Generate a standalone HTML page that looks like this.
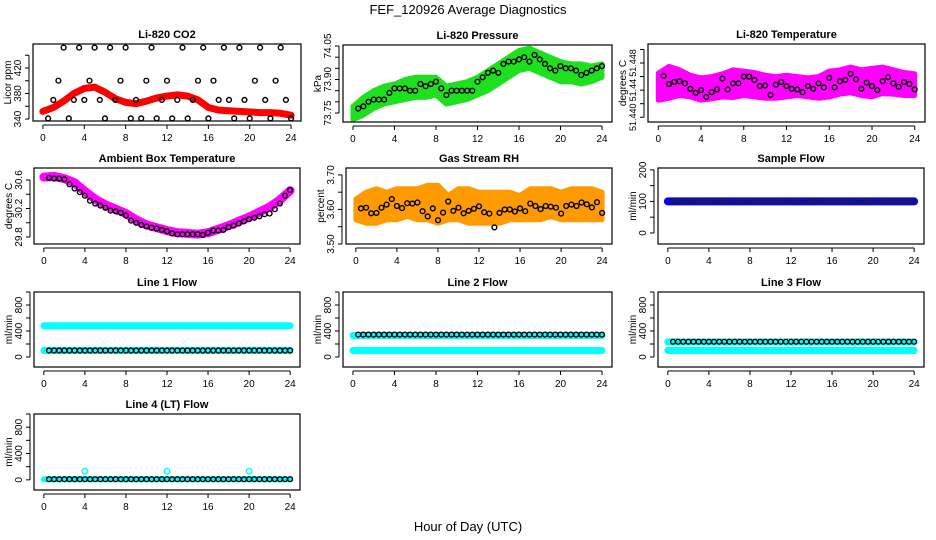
<!DOCTYPE html>
<html><head><meta charset="utf-8"><style>
html,body{margin:0;padding:0;background:#fff}
svg{display:block;font-family:"Liberation Sans",sans-serif}
</style></head><body>
<svg id="c" width="936" height="540" viewBox="0 0 936 540">
<text x="468" y="14" text-anchor="middle" font-size="13">FEF_120926  Average Diagnostics</text>
<text x="468" y="531" text-anchor="middle" font-size="13">Hour of Day (UTC)</text>
</svg>
<script>
// ---- data ----
const xTicks=[0,4,8,12,16,20,24];
const halfHours=[0.5,1,1.5,2,2.5,3,3.5,4,4.5,5,5.5,6,6.5,7,7.5,8,8.5,9,9.5,10,10.5,11,11.5,12,12.5,13,13.5,14,14.5,15,15.5,16,16.5,17,17.5,18,18.5,19,19.5,20,20.5,21,21.5,22,22.5,23,23.5,24];
const bandHours=[0,1,2,3,4,5,6,7,8,9,10,11,12,13,14,15,16,17,18,19,20,21,22,23,24];
// CO2
const co2Black=[341,370,400,452,341,370,452,370,400,452,370,341,452,370,400,452,341,370,341,400,452,341,370,400,341,370,452,341,370,400,452,341,400,370,452,370,341,452,370,341,400,452,370,341,400,452,370,341];
const co2Band=[352,358,368,380,388,390,382,372,366,364,368,373,376,378,376,370,358,354,353,352,351,350,350,349,346];
// Pressure
const presBlack=[73.77,73.78,73.80,73.81,73.81,73.81,73.84,73.86,73.86,73.86,73.85,73.85,73.88,73.87,73.88,73.89,73.86,73.83,73.85,73.85,73.85,73.85,73.85,73.89,73.91,73.93,73.94,73.93,73.97,73.98,73.98,73.99,74.00,73.98,74.01,73.99,73.97,73.95,73.94,73.96,73.95,73.95,73.94,73.92,73.93,73.94,73.95,73.96];
const presBandLo=[73.72,73.74,73.77,73.79,73.80,73.81,73.82,73.82,73.83,73.79,73.80,73.81,73.83,73.85,73.88,73.91,73.94,73.95,73.93,73.91,73.89,73.89,73.88,73.89,73.91];
const presBandHi=[73.78,73.82,73.85,73.87,73.88,73.90,73.91,73.91,73.91,73.87,73.88,73.89,73.91,73.94,73.97,74.00,74.03,74.04,74.02,74.00,73.98,73.97,73.97,73.96,73.97];
// Li-820 temperature
const tempBlack=[51.4461,51.4449,51.4452,51.4453,51.4450,51.4442,51.4436,51.4440,51.4430,51.4437,51.4441,51.4457,51.4441,51.4450,51.4450,51.4460,51.4460,51.4455,51.4446,51.4447,51.4433,51.4448,51.4452,51.4446,51.4442,51.4441,51.4437,51.4446,51.4442,51.4450,51.4444,51.4458,51.4444,51.4453,51.4455,51.4464,51.4456,51.4442,51.4451,51.4446,51.4440,51.4453,51.4459,51.4450,51.4445,51.4452,51.4449,51.4441];
const tempBandLo=[51.4425,51.4428,51.4432,51.4430,51.4425,51.4427,51.4430,51.4429,51.4432,51.4430,51.4428,51.4428,51.4430,51.4432,51.4430,51.4428,51.4430,51.4434,51.4436,51.4432,51.4430,51.4435,51.4434,51.4432,51.4432];
const tempBandHi=[51.4465,51.4475,51.4470,51.4462,51.4458,51.4460,51.4464,51.4470,51.4468,51.4466,51.4462,51.4460,51.4462,51.4460,51.4458,51.4460,51.4468,51.4470,51.4474,51.4470,51.4472,51.4474,51.4470,51.4466,51.4464];
// Ambient box temperature
const ambBlack=[30.63,30.62,30.62,30.61,30.54,30.48,30.43,30.38,30.31,30.27,30.24,30.21,30.17,30.16,30.14,30.10,30.03,30.00,29.97,29.95,29.93,29.92,29.90,29.88,29.85,29.84,29.84,29.84,29.84,29.84,29.83,29.86,29.89,29.89,29.90,29.94,29.96,29.99,30.02,30.05,30.07,30.09,30.12,30.13,30.19,30.27,30.38,30.46];
const ambBand=[30.64,30.65,30.62,30.56,30.44,30.33,30.25,30.19,30.13,30.04,29.97,29.93,29.89,29.86,29.85,29.84,29.86,29.91,29.96,30.02,30.08,30.15,30.22,30.32,30.45];
// Gas stream RH
const rhBlack=[3.603,3.605,3.589,3.590,3.605,3.614,3.630,3.610,3.604,3.618,3.617,3.620,3.595,3.580,3.603,3.569,3.591,3.623,3.596,3.605,3.589,3.596,3.602,3.609,3.592,3.588,3.548,3.590,3.600,3.600,3.594,3.603,3.595,3.617,3.610,3.601,3.610,3.608,3.605,3.588,3.610,3.614,3.610,3.620,3.615,3.606,3.621,3.590];
const rhBandLo=[3.57,3.56,3.56,3.57,3.57,3.58,3.57,3.57,3.56,3.57,3.57,3.56,3.56,3.56,3.56,3.57,3.57,3.57,3.57,3.58,3.57,3.57,3.57,3.57,3.57];
const rhBandHi=[3.63,3.65,3.66,3.65,3.66,3.66,3.66,3.67,3.67,3.64,3.66,3.66,3.65,3.65,3.65,3.65,3.64,3.66,3.66,3.66,3.65,3.66,3.66,3.66,3.65];
// flows
const sampleFlow=100;
const line1Hi=480, line1Lo=100, line1Black=100;
const line2Hi=330, line2Lo=100, line2Black=345;
const line3Hi=230, line3Lo=100, line3Black=235;
const line4Level=10, line4Spikes=[4,12,20], line4SpikeVal=130;

const panels=[
 {id:"co2",title:"Li-820 CO2",yl:"Licor ppm",L:33,T:44,R:301,B:121,y0:336.9,y1:457.6,ticks:[340,360,380,400,420,440],labs:{340:"340",380:"380",420:"420"}},
 {id:"pressure",title:"Li-820 Pressure",yl:"kPa",L:343,T:45,R:612,B:122,y0:73.7097,y1:74.0545,ticks:[73.75,73.80,73.85,73.90,73.95,74.00,74.05],labs:{"73.75":"73.75","73.9":"73.90","74.05":"74.05"}},
 {id:"temperature",title:"Li-820 Temperature",yl:"degrees C",L:648,T:44,R:925,B:122,y0:51.4393,y1:51.4508,ticks:[51.440,51.442,51.444,51.446,51.448,51.450],labs:{"51.44":"51.440","51.444":"51.44","51.448":"51.448"},fs:9},
 {id:"ambient",title:"Ambient Box Temperature",yl:"degrees C",L:34,T:168,R:300,B:244,y0:29.702,y1:30.768,ticks:[29.8,30.0,30.2,30.4,30.6],labs:{"29.8":"29.8","30.2":"30.2","30.6":"30.6"}},
 {id:"rh",title:"Gas Stream RH",yl:"percent",L:346,T:168,R:612,B:244,y0:3.50,y1:3.72,ticks:[3.50,3.55,3.60,3.65,3.70],labs:{"3.5":"3.50","3.6":"3.60","3.7":"3.70"}},
 {id:"sample",title:"Sample Flow",yl:"ml/min",L:658,T:168,R:924,B:244,y0:-35,y1:206,ticks:[0,50,100,150,200],labs:{0:"0",100:"100",200:"200"}},
 {id:"line1",title:"Line 1 Flow",yl:"ml/min",L:34,T:292,R:300,B:367,y0:-154,y1:1000,ticks:[0,200,400,600,800,1000],labs:{0:"0",400:"400",800:"800"}},
 {id:"line2",title:"Line 2 Flow",yl:"ml/min",L:343,T:292,R:612,B:367,y0:-154,y1:1000,ticks:[0,200,400,600,800,1000],labs:{0:"0",400:"400",800:"800"}},
 {id:"line3",title:"Line 3 Flow",yl:"ml/min",L:658,T:292,R:924,B:367,y0:-154,y1:1000,ticks:[0,200,400,600,800,1000],labs:{0:"0",400:"400",800:"800"}},
 {id:"line4",title:"Line 4 (LT) Flow",yl:"ml/min",L:34,T:414,R:300,B:490,y0:-154,y1:1000,ticks:[0,200,400,600,800,1000],labs:{0:"0",400:"400",800:"800"}}
];
const NS="http://www.w3.org/2000/svg";
const svg=document.getElementById("c");
function mk(tag,attrs,parent){const e=document.createElementNS(NS,tag);for(const k in attrs)e.setAttribute(k,attrs[k]);(parent||svg).appendChild(e);return e;}
const P={};
panels.forEach(p=>{
 const g=mk("g",{});
 
 
 p.g=g;
 p.x=t=>p.L+(t+0.96)/25.92*(p.R-p.L);
 p.y=v=>p.B-(v-p.y0)/(p.y1-p.y0)*(p.B-p.T);
 P[p.id]=p;
});
function circ(p,t,v,fill,stroke,r,name){
 const c=mk("circle",{cx:p.x(t).toFixed(1),cy:p.y(v).toFixed(1),r:r,fill:fill,stroke:stroke,"stroke-width":stroke=="none"?0:1.4},p.g);
 
 
}
function bandLine(p,ts,vs,color,w,name){
 const d=ts.map((t,i)=>(i?"L":"M")+p.x(t).toFixed(1)+","+p.y(vs[i]).toFixed(1)).join("");
 const e=mk("path",{d:d,fill:"none",stroke:color,"stroke-width":w,"stroke-linecap":"round","stroke-linejoin":"round"},p.g);
 
 
}
function bandPoly(p,ts,lo,hi,color,name){
 let d=ts.map((t,i)=>(i?"L":"M")+p.x(t).toFixed(1)+","+p.y(hi[i]).toFixed(1)).join("");
 for(let i=ts.length-1;i>=0;i--)d+="L"+p.x(ts[i]).toFixed(1)+","+p.y(lo[i]).toFixed(1);
 const e=mk("path",{d:d+"Z",fill:color,stroke:color,"stroke-width":5,"stroke-linejoin":"round"},p.g);
 
 
}
// series
const co2=P.co2;
bandLine(co2,bandHours,co2Band,"#ff0000",7,"co2-band");
halfHours.forEach((t,i)=>circ(co2,t,co2Black[i],"none","#000",2.4,"co2-point"));
const pr=P.pressure;
bandPoly(pr,bandHours,presBandLo,presBandHi,"#1fe01f","pressure-band");
halfHours.forEach((t,i)=>circ(pr,t,presBlack[i],"none","#000",2.4,"pressure-point"));
const tp=P.temperature;
bandPoly(tp,bandHours,tempBandLo,tempBandHi,"#ff00ff","temperature-band");
halfHours.forEach((t,i)=>circ(tp,t,tempBlack[i],"none","#000",2.4,"temperature-point"));
const am=P.ambient;
bandLine(am,bandHours,ambBand,"#ff00ff",9,"ambient-band");
halfHours.forEach((t,i)=>circ(am,t,ambBlack[i],"none","#000",2.4,"ambient-point"));
const rh=P.rh;
bandPoly(rh,bandHours,rhBandLo,rhBandHi,"#ff9a00","rh-band");
halfHours.forEach((t,i)=>circ(rh,t,rhBlack[i],"none","#000",2.4,"rh-point"));
const sf=P.sample;
bandLine(sf,[0,24],[sampleFlow,sampleFlow],"#0000ff",8,"sample-band");
halfHours.forEach(t=>circ(sf,t,sampleFlow,"none","#222",2.4,"sample-point"));
[[P.line1,line1Hi,line1Lo,line1Black],[P.line2,line2Hi,line2Lo,line2Black],[P.line3,line3Hi,line3Lo,line3Black]].forEach(([p,hi,lo,bl])=>{
 bandLine(p,[0,24],[hi,hi],"#00ffff",7,p.id+"-band-high");
 bandLine(p,[0,24],[lo,lo],"#00ffff",7,p.id+"-band-low");
 halfHours.forEach(t=>circ(p,t,bl,"none","#000",2.4,p.id+"-point"));
});
const l4=P.line4;
bandLine(l4,[0,24],[line4Level,line4Level],"#00ffff",6,"line4-band");
line4Spikes.forEach(t=>circ(l4,t,line4SpikeVal,"none","#00ffff",2.8,"line4-spike"));
halfHours.forEach(t=>circ(l4,t,line4Level,"none","#000",2.4,"line4-point"));
// axes
panels.forEach(p=>{
 const g=p.g;
 const box=mk("rect",{x:p.L,y:p.T,width:p.R-p.L,height:p.B-p.T,fill:"none",stroke:"#000","stroke-width":1.2},g);
 
 
 const tt=mk("text",{x:(p.L+p.R)/2,y:p.T-6,"text-anchor":"middle","font-size":11,"font-weight":"bold"},g);
 tt.textContent=p.title;
 
 
 const ay=p.B+4;
 mk("line",{x1:p.x(0),x2:p.x(24),y1:ay,y2:ay,stroke:"#000"},g);
 xTicks.forEach(t=>{
  mk("line",{x1:p.x(t),x2:p.x(t),y1:ay,y2:ay+4,stroke:"#000"},g);
  const tx=mk("text",{x:p.x(t),y:ay+16,"text-anchor":"middle","font-size":10},g);
  tx.textContent=t;
  
  
 });
 const ax=p.L-4;
 mk("line",{x1:ax,x2:ax,y1:p.y(p.ticks[0]),y2:p.y(p.ticks[p.ticks.length-1]),stroke:"#000"},g);
 p.ticks.forEach(v=>{
  const yy=p.y(v);
  mk("line",{x1:ax,x2:ax-4,y1:yy,y2:yy,stroke:"#000"},g);
  const key=String(+v.toFixed(4));
  if(p.labs[key]!==undefined){
   const tx=mk("text",{x:ax-8,y:yy,"text-anchor":"middle","font-size":p.fs||10,transform:`rotate(-90 ${ax-8} ${yy})`},g);
   tx.textContent=p.labs[key];
   
   
  }
 });
 const yx=p.L-22, ym=(p.T+p.B)/2;
 const yt=mk("text",{x:yx,y:ym,"text-anchor":"middle","font-size":10,transform:`rotate(-90 ${yx} ${ym})`},g);
 yt.textContent=p.yl;
 
 
});
</script>
</body></html>
